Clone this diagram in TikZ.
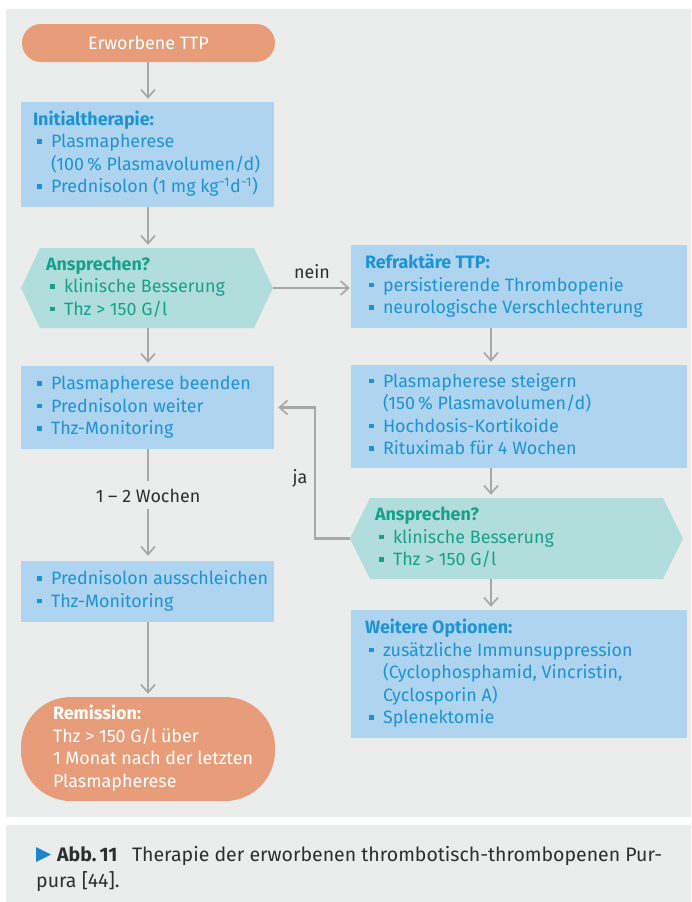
\documentclass[tikz,border=0pt]{standalone}
\usepackage{fontspec}
\setmainfont{Fira Sans}
\usetikzlibrary{arrows.meta}
\definecolor{bggray}{HTML}{EBECEC}
\definecolor{orng}{HTML}{E89D7A}
\definecolor{boxblue}{HTML}{AED4EF}
\definecolor{txtblue}{HTML}{1E93D3}
\definecolor{hexteal}{HTML}{B1DEDC}
\definecolor{txtteal}{HTML}{17A08C}
\definecolor{arrgray}{HTML}{A7A8A9}
\definecolor{lbl}{HTML}{2E2E2E}
\definecolor{capblue}{HTML}{1B86CC}
\newcommand\mainsz{\fontsize{17.9}{22.5}\selectfont}
\newcommand\sqb[1]{\makebox[18pt][l]{\hspace{4pt}\textcolor{#1}{\rule[0.22em]{4.5pt}{4.5pt}}}}
\newcommand\bb{\sqb{txtblue}}
\newcommand\bt{\sqb{txtteal}}
\newcommand\cont{\hspace*{18pt}}
\newcommand\minusone{\textsuperscript{\char"2212 1}}
\newcommand\txt[2]{\makebox[#1][l]{\begin{tabular}{@{}l@{}}#2\end{tabular}}}
\begin{document}
\begin{tikzpicture}[x=1pt,y=-1pt,
  bbox/.style 2 args={fill=boxblue, text=txtblue, minimum width=#1, minimum height=#2, inner sep=0pt, font=\mainsz},
  pill/.style n args={3}{fill=orng, text=white, minimum width=#1, minimum height=#2, rounded corners=#3, inner sep=0pt, font=\mainsz},
  hexbox/.style n args={3}{text=txtteal, minimum width=#1, minimum height=#2, inner sep=0pt, font=\mainsz,
    path picture={\fill[hexteal] (path picture bounding box.west) -- ([xshift=#3]path picture bounding box.north west) -- ([xshift=-#3]path picture bounding box.north east) -- (path picture bounding box.east) -- ([xshift=-#3]path picture bounding box.south east) -- ([xshift=#3]path picture bounding box.south west) -- cycle;}},
  lab/.style={text=lbl, font=\mainsz, inner sep=0pt},
  conn/.style={draw=arrgray, line width=2.3pt},
  arr/.style={conn, -{Straight Barb[length=8pt,width=14pt,line width=1.7pt]}, shorten >=3pt},
  captxt/.style={text=lbl, font=\fontsize{19.5}{26}\selectfont, anchor=base west, inner sep=0pt},
]
\useasboundingbox (0,0) rectangle (691,902);
\fill[white] (0,0) rectangle (691,902);
\fill[bggray] (6,9) rectangle (691,817);
\fill[bggray] (6,825) rectangle (691,902);

% left column
\node[pill={253}{38}{19pt}] (start) at (148.5,43) {Erworbene TTP};
\node[bbox={253}{105}] (init) at (147.5,154.5) {\txt{229pt}{\textbf{Initialtherapie:}\\ \bb Plasmapherese\\ \cont(100\,\% Plasmavolumen/d)\\ \bb Prednisolon (1 mg kg\minusone d\minusone)}};
\node[hexbox={252}{80}{19pt}] (hexL) at (147,288) {\txt{202pt}{\textbf{Ansprechen?}\\ \bt klinische Besserung\\ \bt Thz > 150 G/l}};
\node[bbox={253}{83}] (beenden) at (147.5,407.5) {\txt{229pt}{\bb Plasmapherese beenden\\ \bb Prednisolon weiter\\ \bb Thz-Monitoring}};
\node[lab] (wochen) at (148,496) {1 -- 2 Wochen};
\node[bbox={253}{61}] (aussch) at (147.5,591.5) {\txt{229pt}{\bb Prednisolon ausschleichen\\ \bb Thz-Monitoring}};
\node[pill={254}{104}{50pt}] (remis) at (148,749) {\txt{190pt}{\textbf{Remission:}\\ Thz > 150 G/l über\\ 1 Monat nach der letzten\\ Plasmapherese}};

% right column
\node[bbox={336}{83}] (refr) at (519,286.5) {\txt{308pt}{\textbf{Refraktäre TTP:}\\ \bb persistierende Thrombopenie\\ \bb neurologische Verschlechterung}};
\node[bbox={336}{103}] (steig) at (519,416.5) {\txt{308pt}{\bb Plasmapherese steigern\\ \cont(150\,\% Plasmavolumen/d)\\ \bb Hochdosis-Kortikoide\\ \bb Rituximab für 4 Wochen}};
\node[hexbox={333}{81}{20pt}] (hexR) at (516.5,538.5) {\txt{283pt}{\textbf{Ansprechen?}\\ \bt klinische Besserung\\ \bt Thz > 150 G/l}};
\node[bbox={336}{128}] (weitere) at (519,674) {\txt{308pt}{\textbf{Weitere Optionen:}\\ \bb zusätzliche Immunsuppression\\ \cont(Cyclophosphamid, Vincristin,\\ \cont Cyclosporin A)\\ \bb Splenektomie}};

\node[lab] (nein) at (312,272) {nein};
\node[lab] (ja) at (300,478) {ja};

\coordinate (lx) at (148,0);
\coordinate (rx) at (491,0);
\coordinate (jx) at (315,0);

% connectors
\draw[arr] (start.south -| lx) -- (init.north -| lx);
\draw[arr] (init.south -| lx) -- (hexL.north -| lx);
\draw[arr] (hexL.south -| lx) -- (beenden.north -| lx);
\draw[conn] (beenden.south -| lx) -- ([yshift=8pt]wochen.north);
\draw[arr, shorten >=5pt] ([yshift=-6pt]wochen.south) -- (aussch.north -| lx);
\draw[arr] (aussch.south -| lx) -- (remis.north -| lx);
\draw[arr, shorten >=1pt] (hexL.east) -- (hexL.east -| refr.west);
\draw[arr] (refr.south -| rx) -- (steig.north -| rx);
\draw[arr] (steig.south -| rx) -- (hexR.north -| rx);
\draw[arr] (hexR.south -| rx) -- (weitere.north -| rx);
\draw[arr, shorten >=4pt] (hexR.west) -- (hexR.west -| jx) |- (beenden.east);

% caption
\fill[capblue] (36,847) -- (51,854.5) -- (36,862) -- cycle;
\node[captxt] (cap1) at (57,861) {\textbf{Abb.\,11}\hspace{0.75em}Therapie der erworbenen thrombotisch-thrombopenen Pur-};
\node[captxt] (cap2) at (36,887) {pura [44].};
\end{tikzpicture}
\end{document}
